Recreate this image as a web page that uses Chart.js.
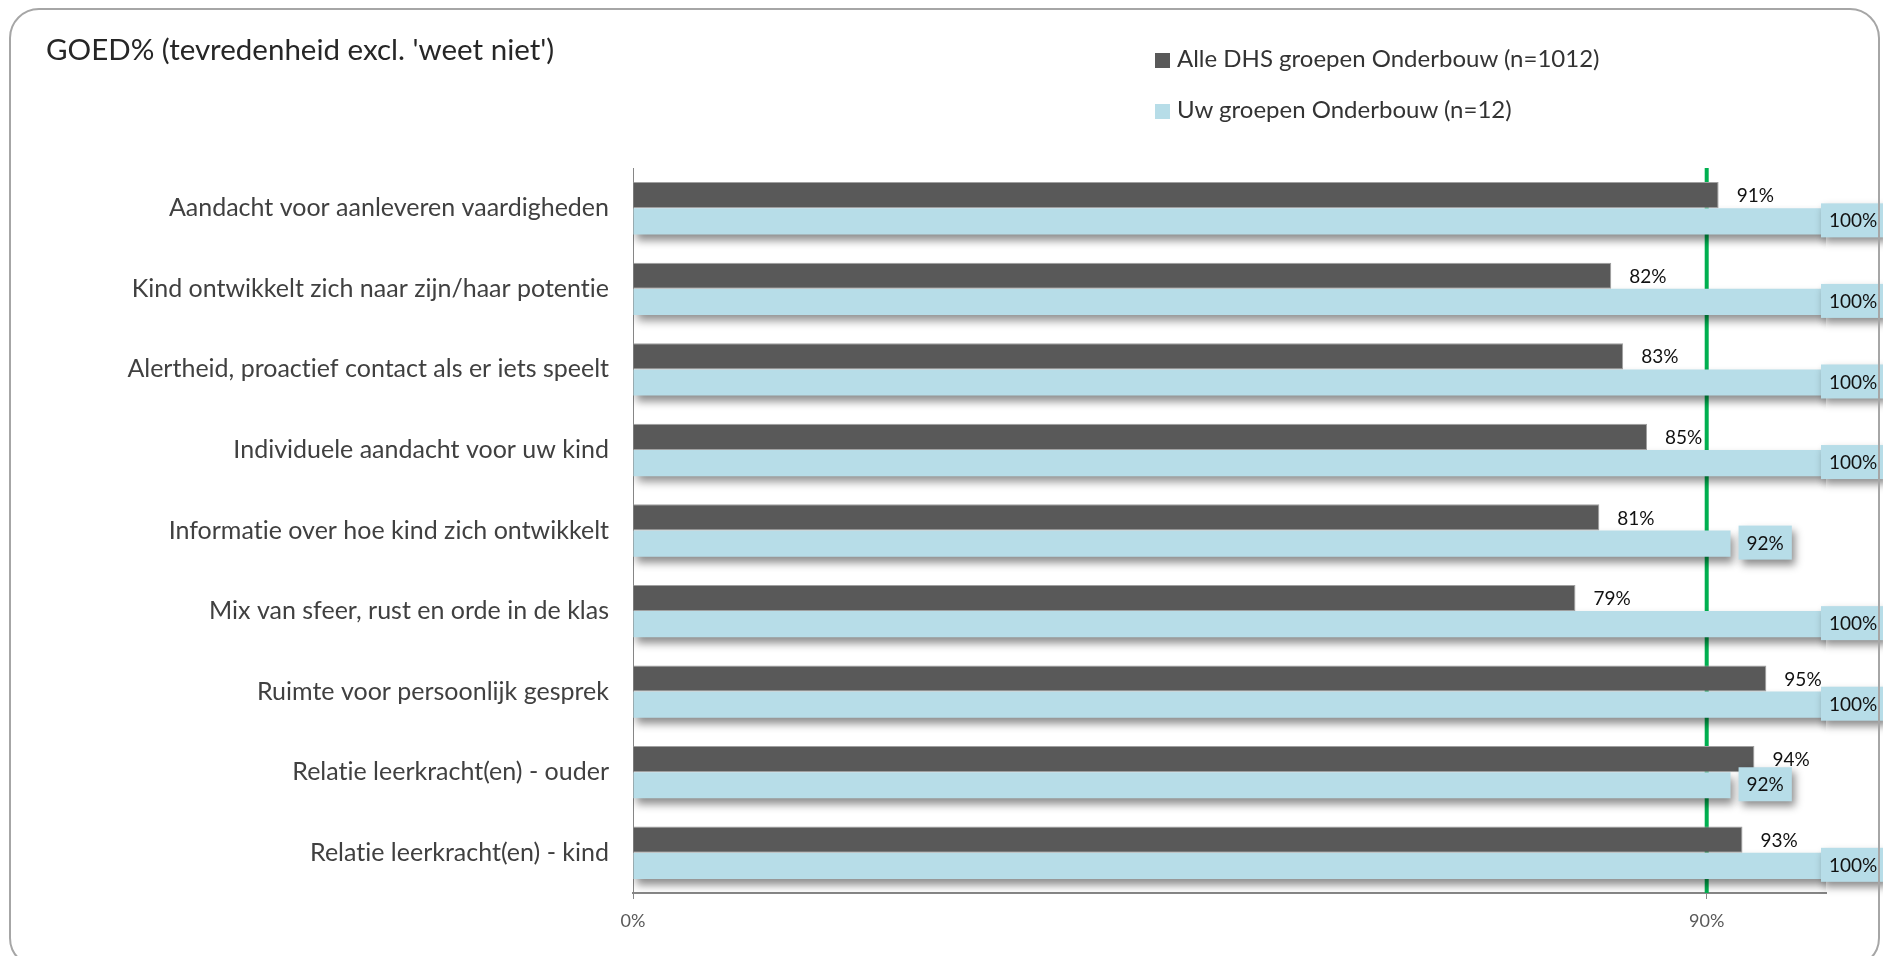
<!DOCTYPE html>
<html>
<head>
<meta charset="utf-8">
<script src="https://cdn.jsdelivr.net/npm/chart.js@4.4.1/dist/chart.umd.min.js"></script>
<style>
    html, body { margin: 0; padding: 0; background: #fff; }
    body { width: 1883px; height: 956px; position: relative; overflow: hidden; font-family: Lato, sans-serif; font-variant-ligatures: none; }
    #frame {
        position: absolute; left: 9px; top: 8px; width: 1871px; height: 960px;
        border: 2px solid #a6a6a6; border-radius: 30px; box-sizing: border-box; pointer-events: none;
    }
    #title { position: absolute; left: 46px; top: 32px; font-size: 29.5px; line-height: 34px; color: #262626; white-space: nowrap; }
    .legend-row { position: absolute; left: 1155px; font-size: 24px; line-height: 28px; color: #333; white-space: nowrap; }
    .legend-row span.box { display: inline-block; width: 15px; height: 15px; margin-right: 7px; vertical-align: -1px; }
    canvas { position: absolute; left: 0; top: 0; }
</style>
</head>
<body>
<canvas id="goedChart" width="1883" height="956"></canvas>
<div id="frame"></div>
<div id="title">GOED% (tevredenheid excl. 'weet niet')</div>
<div id="legend"></div>
<script>
// categorieën en waarden
const categories = [
    'Aandacht voor aanleveren vaardigheden',
    'Kind ontwikkelt zich naar zijn/haar potentie',
    'Alertheid, proactief contact als er iets speelt',
    'Individuele aandacht voor uw kind',
    'Informatie over hoe kind zich ontwikkelt',
    'Mix van sfeer, rust en orde in de klas',
    'Ruimte voor persoonlijk gesprek',
    'Relatie leerkracht(en) - ouder',
    'Relatie leerkracht(en) - kind'
];
const alleDHS = [91, 82, 83, 85, 81, 79, 95, 94, 93];
const uwGroepen = [100, 100, 100, 100, 92, 100, 100, 92, 100];
const seriesLabels = ['Alle DHS groepen Onderbouw (n=1012)', 'Uw groepen Onderbouw (n=12)'];
const xTicks = [0, 90];
const norm = 90;

const darkColor = '#595959';
const lightColor = '#b7dde8';

// legenda als html
const legend = document.getElementById('legend');
[darkColor, lightColor].forEach((c, i) => {
    const row = document.createElement('div');
    row.className = 'legend-row';
    row.style.top = (44 + i * 51) + 'px';
    row.innerHTML = `<span class="box" style="background:${c}"></span>${seriesLabels[i]}`;
    legend.appendChild(row);
});

// groene normlijn achter de balken
const normLine = {
    id: 'normLine',
    beforeDatasetsDraw(chart) {
        const { ctx, chartArea, scales } = chart;
        const x = scales.x.getPixelForValue(norm);
        ctx.save();
        ctx.strokeStyle = '#00b050';
        ctx.lineWidth = 4;
        ctx.beginPath();
        ctx.moveTo(x, chartArea.top);
        ctx.lineTo(x, chartArea.bottom);
        ctx.stroke();
        ctx.restore();
    }
};

// schaduw onder de lichte balken
const barShadow = {
    id: 'barShadow',
    beforeDatasetDraw(chart, args) {
        chart.ctx.save();
        if (args.index === 1) {
            chart.ctx.shadowColor = 'rgba(0,0,0,0.45)';
            chart.ctx.shadowBlur = 9;
            chart.ctx.shadowOffsetX = 3;
            chart.ctx.shadowOffsetY = 6;
        }
    },
    afterDatasetDraw(chart) {
        chart.ctx.restore();
    }
};

// waardelabels
const valueLabels = {
    id: 'valueLabels',
    afterDatasetsDraw(chart) {
        const { ctx, chartArea } = chart;
        ctx.save();
        ctx.font = '19px Lato';
        ctx.textBaseline = 'middle';

        chart.getDatasetMeta(0).data.forEach((bar, i) => {
            ctx.fillStyle = '#111';
            ctx.textAlign = 'left';
            ctx.fillText(alleDHS[i] + '%', bar.x + 18, bar.y + 1);
        });

        chart.getDatasetMeta(1).data.forEach((bar, i) => {
            const text = uwGroepen[i] + '%';
            const w = ctx.measureText(text).width + 16;
            const h = 34;
            const x = Math.min(bar.x + 8, chartArea.right - 5);
            const y = bar.y - h / 2 - 1;
            ctx.save();
            ctx.shadowColor = 'rgba(0,0,0,0.45)';
            ctx.shadowBlur = 8;
            ctx.shadowOffsetX = 3;
            ctx.shadowOffsetY = 5;
            ctx.fillStyle = lightColor;
            ctx.fillRect(x, y, w, h);
            ctx.restore();
            ctx.fillStyle = '#111';
            ctx.textAlign = 'center';
            ctx.fillText(text, x + w / 2, y + h / 2 + 1);
        });
        ctx.restore();
    }
};

const ctx = document.getElementById('goedChart').getContext('2d');
// geen "ti"-ligaturen in de labels
ctx.textRendering = 'optimizeSpeed';
new Chart(ctx, {
    type: 'bar',
    data: {
        labels: categories,
        datasets: [
            {
                label: seriesLabels[0],
                data: alleDHS,
                backgroundColor: darkColor,
                borderColor: '#a0a0a0',
                borderWidth: 1,
                categoryPercentage: 0.65,
                barPercentage: 1
            },
            {
                label: seriesLabels[1],
                data: uwGroepen,
                backgroundColor: lightColor,
                borderWidth: 0,
                categoryPercentage: 0.65,
                barPercentage: 1
            }
        ]
    },
    plugins: [normLine, barShadow, valueLabels],
    options: {
        indexAxis: 'y',
        responsive: false,
        devicePixelRatio: 1,
        animation: false,
        layout: {
            padding: { left: 0, right: 57, top: 168, bottom: 0 }
        },
        plugins: {
            legend: { display: false },
            tooltip: { enabled: false }
        },
        scales: {
            x: {
                min: 0,
                max: 100,
                afterBuildTicks: axis => { axis.ticks = xTicks.map(v => ({ value: v })); },
                afterFit: scale => { scale.height = 63; },
                grid: { drawOnChartArea: false, drawTicks: true, tickLength: 6, color: '#868686' },
                border: { display: true, color: '#868686', width: 2 },
                ticks: {
                    padding: 11,
                    color: '#595959',
                    font: { family: 'Lato', size: 18 },
                    callback: v => v + '%'
                }
            },
            y: {
                afterFit: scale => { scale.width = 633; },
                grid: { display: false },
                border: { display: true, color: '#868686', width: 1 },
                ticks: {
                    padding: 16,
                    color: '#404040',
                    font: { family: 'Lato', size: 25 }
                }
            }
        }
    }
});
</script>
</body>
</html>
